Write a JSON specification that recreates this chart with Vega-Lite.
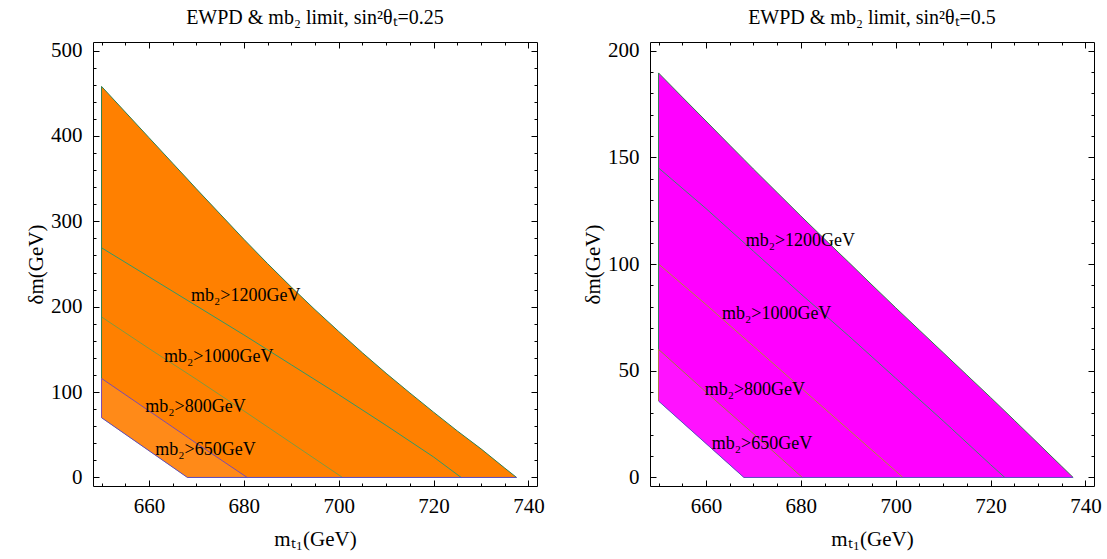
{
  "$schema": "https://vega.github.io/schema/vega-lite/v6.json",
  "background": "white",
  "padding": {"left": 25, "top": 7, "right": 5, "bottom": 5},
  "datasets": {
    "regL": [
      {"x": 650, "hi": 458, "lo": 70}, {"x": 655, "hi": 428, "lo": 50.7}, {"x": 660, "hi": 398, "lo": 31.3},
      {"x": 665, "hi": 368, "lo": 12}, {"x": 668.1, "hi": 349.5, "lo": 0}, {"x": 670, "hi": 338, "lo": 0},
      {"x": 675, "hi": 308.5, "lo": 0}, {"x": 680, "hi": 279, "lo": 0}, {"x": 685, "hi": 250.5, "lo": 0},
      {"x": 690, "hi": 223, "lo": 0}, {"x": 695, "hi": 196.5, "lo": 0}, {"x": 700, "hi": 171, "lo": 0},
      {"x": 705, "hi": 146, "lo": 0}, {"x": 710, "hi": 122, "lo": 0}, {"x": 715, "hi": 99, "lo": 0},
      {"x": 720, "hi": 76.5, "lo": 0}, {"x": 725, "hi": 54.5, "lo": 0}, {"x": 730, "hi": 33.5, "lo": 0},
      {"x": 735, "hi": 11, "lo": 0}, {"x": 737.5, "hi": 0, "lo": 0}
    ],
    "hatchL": [{"x": 650, "hi": 116, "lo": 70}, {"x": 668.1, "hi": 47.6, "lo": 0}, {"x": 680.7, "hi": 0, "lo": 0}],
    "linL": [
      {"x": 650, "y": 269, "c": "1200"}, {"x": 660, "y": 235, "c": "1200"}, {"x": 670, "y": 201, "c": "1200"}, {"x": 680, "y": 167, "c": "1200"}, {"x": 690, "y": 132, "c": "1200"}, {"x": 700, "y": 97, "c": "1200"}, {"x": 710, "y": 61, "c": "1200"}, {"x": 720, "y": 24, "c": "1200"}, {"x": 725.8, "y": 0, "c": "1200"},
      {"x": 650, "y": 188, "c": "1000"}, {"x": 660, "y": 151, "c": "1000"}, {"x": 670, "y": 115, "c": "1000"}, {"x": 680, "y": 78, "c": "1000"}, {"x": 690, "y": 40.5, "c": "1000"}, {"x": 700.8, "y": 0, "c": "1000"},
      {"x": 650, "y": 116, "c": "800"}, {"x": 660, "y": 78, "c": "800"}, {"x": 670, "y": 40, "c": "800"}, {"x": 680.7, "y": 0, "c": "800"},
      {"x": 650, "y": 70, "c": "650"}, {"x": 668.1, "y": 0, "c": "650"}, {"x": 737.5, "y": 0, "c": "650"}
    ],
    "sideL": [
      {"x": 650, "y": 70, "y2": 116, "c": "800"},
      {"x": 650, "y": 116, "y2": 458, "c": "edge"}
    ],
    "labL": [
      {"x": 680.4, "y": 213, "t": "mb₂>1200GeV"},
      {"x": 674.7, "y": 140.6, "t": "mb₂>1000GeV"},
      {"x": 669.8, "y": 82, "t": "mb₂>800GeV"},
      {"x": 671.9, "y": 31.6, "t": "mb₂>650GeV"}
    ],
    "regR": [
      {"x": 650, "hi": 189.5, "lo": 35.8}, {"x": 655, "hi": 178.2, "lo": 25.9}, {"x": 660, "hi": 167, "lo": 15.9},
      {"x": 665, "hi": 155.7, "lo": 6}, {"x": 668, "hi": 149, "lo": 0}, {"x": 670, "hi": 144.5, "lo": 0},
      {"x": 675, "hi": 133.5, "lo": 0}, {"x": 680, "hi": 122.5, "lo": 0}, {"x": 685, "hi": 111.7, "lo": 0},
      {"x": 690, "hi": 101, "lo": 0}, {"x": 695, "hi": 90.2, "lo": 0}, {"x": 700, "hi": 79.5, "lo": 0},
      {"x": 705, "hi": 69, "lo": 0}, {"x": 710, "hi": 58.5, "lo": 0}, {"x": 715, "hi": 48, "lo": 0},
      {"x": 720, "hi": 37.5, "lo": 0}, {"x": 725, "hi": 26.8, "lo": 0}, {"x": 730, "hi": 16, "lo": 0},
      {"x": 735, "hi": 5.2, "lo": 0}, {"x": 737.4, "hi": 0, "lo": 0}
    ],
    "hatchR": [{"x": 650, "hi": 60, "lo": 35.8}, {"x": 668, "hi": 24, "lo": 0}, {"x": 680.3, "hi": 0, "lo": 0}],
    "linR": [
      {"x": 650, "y": 145, "c": "1200"}, {"x": 660, "y": 126, "c": "1200"}, {"x": 670, "y": 106, "c": "1200"}, {"x": 680, "y": 86, "c": "1200"}, {"x": 690, "y": 66.5, "c": "1200"}, {"x": 700, "y": 46.5, "c": "1200"}, {"x": 710, "y": 26.5, "c": "1200"}, {"x": 720, "y": 6, "c": "1200"}, {"x": 723, "y": 0, "c": "1200"},
      {"x": 650, "y": 100, "c": "1000"}, {"x": 660, "y": 81, "c": "1000"}, {"x": 670, "y": 61.5, "c": "1000"}, {"x": 680, "y": 42, "c": "1000"}, {"x": 690, "y": 22.5, "c": "1000"}, {"x": 700, "y": 3, "c": "1000"}, {"x": 701.5, "y": 0, "c": "1000"},
      {"x": 650, "y": 60, "c": "800"}, {"x": 660, "y": 40, "c": "800"}, {"x": 670, "y": 20.5, "c": "800"}, {"x": 680.3, "y": 0, "c": "800"},
      {"x": 650, "y": 35.8, "c": "650"}, {"x": 668, "y": 0, "c": "650"}, {"x": 737.4, "y": 0, "c": "650"}
    ],
    "sideR": [
      {"x": 650, "y": 35.8, "y2": 60, "c": "800"},
      {"x": 650, "y": 60, "y2": 189.5, "c": "edge"}
    ],
    "labR": [
      {"x": 679.9, "y": 111, "t": "mb₂>1200GeV"},
      {"x": 674.9, "y": 76.4, "t": "mb₂>1000GeV"},
      {"x": 670.3, "y": 40.8, "t": "mb₂>800GeV"},
      {"x": 671.8, "y": 15.9, "t": "mb₂>650GeV"}
    ]
  },
  "config": {
    "view": {"stroke": "black", "strokeWidth": 1},
    "font": "Liberation Serif",
    "axis": {
      "labelFont": "Liberation Serif", "titleFont": "Liberation Serif",
      "labelColor": "black", "titleColor": "black", "tickColor": "black",
      "labelFontSize": 21, "titleFontSize": 21, "titleFontWeight": "normal",
      "grid": false, "domain": false, "tickWidth": 1
    },
    "title": {"font": "Liberation Serif", "fontSize": 20, "fontWeight": "normal", "color": "black", "anchor": "middle", "offset": 12}
  },
  "hconcat": [
    {
      "width": 444, "height": 444,
      "title": "EWPD & mb₂ limit, sin²θₜ=0.25",
      "resolve": {"axis": {"x": "independent", "y": "independent"}},
      "layer": [
        {
          "data": {"name": "regL"},
          "mark": {"type": "area", "color": "#ff8000", "opacity": 1},
          "encoding": {
            "x": {"field": "x", "type": "quantitative", "scale": {"domain": [648.2, 741.8], "nice": false, "zero": false},
                  "axis": {"orient": "bottom", "values": [660, 680, 700, 720, 740], "tickSize": -6, "labelPadding": 15, "title": "mₜ₁(GeV)", "titlePadding": 12}},
            "y": {"field": "hi", "type": "quantitative", "scale": {"domain": [-10, 510], "nice": false, "zero": false},
                  "axis": {"orient": "left", "values": [0, 100, 200, 300, 400, 500], "tickSize": -6, "labelPadding": 17, "title": "δm(GeV)", "titlePadding": 4}},
            "y2": {"field": "lo"}
          }
        },
        {
          "data": {"name": "hatchL"},
          "mark": {"type": "area", "color": "#ff8a18", "opacity": 1},
          "encoding": {
            "x": {"field": "x", "type": "quantitative", "axis": null},
            "y": {"field": "hi", "type": "quantitative", "axis": null},
            "y2": {"field": "lo"}
          }
        },
        {
          "data": {"name": "regL"},
          "mark": {"type": "line", "strokeWidth": 1, "color": "#2f7f4f"},
          "encoding": {
            "x": {"field": "x", "type": "quantitative", "axis": null},
            "y": {"field": "hi", "type": "quantitative", "axis": null}
          }
        },
        {
          "data": {"name": "linL"},
          "mark": {"type": "line", "strokeWidth": 1},
          "encoding": {
            "x": {"field": "x", "type": "quantitative", "axis": {"orient": "top", "values": [660, 680, 700, 720, 740], "tickSize": -6, "labels": false, "title": null}},
            "y": {"field": "y", "type": "quantitative", "axis": {"orient": "right", "values": [0, 100, 200, 300, 400, 500], "tickSize": -6, "labels": false, "title": null}},
            "color": {"field": "c", "type": "nominal", "legend": null, "scale": {"domain": ["edge", "1200", "1000", "800", "650"], "range": ["#2f7f4f", "#2f9a6a", "#7f9a40", "#7a4cb0", "#5a4fc0"]}}
          }
        },
        {
          "data": {"name": "sideL"},
          "mark": {"type": "rule", "strokeWidth": 1},
          "encoding": {
            "x": {"field": "x", "type": "quantitative", "axis": {"orient": "top", "values": [650, 655, 665, 670, 675, 685, 690, 695, 705, 710, 715, 725, 730, 735], "tickSize": -3, "labels": false, "title": null}},
            "y": {"field": "y", "type": "quantitative", "axis": {"orient": "right", "values": [20, 40, 60, 80, 120, 140, 160, 180, 220, 240, 260, 280, 320, 340, 360, 380, 420, 440, 460, 480], "tickSize": -3, "labels": false, "title": null}},
            "y2": {"field": "y2"},
            "color": {"field": "c", "type": "nominal", "legend": null}
          }
        },
        {
          "data": {"name": "labL"},
          "mark": {"type": "text", "font": "Liberation Serif", "fontSize": 18, "color": "black", "align": "center", "baseline": "middle"},
          "encoding": {
            "x": {"field": "x", "type": "quantitative", "axis": {"orient": "bottom", "values": [650, 655, 665, 670, 675, 685, 690, 695, 705, 710, 715, 725, 730, 735], "tickSize": -3, "labels": false, "title": null}},
            "y": {"field": "y", "type": "quantitative", "axis": {"orient": "left", "values": [20, 40, 60, 80, 120, 140, 160, 180, 220, 240, 260, 280, 320, 340, 360, 380, 420, 440, 460, 480], "tickSize": -3, "labels": false, "title": null}},
            "text": {"field": "t", "type": "nominal"}
          }
        }
      ]
    },
    {
      "width": 444, "height": 444,
      "title": "EWPD & mb₂ limit, sin²θₜ=0.5",
      "resolve": {"axis": {"x": "independent", "y": "independent"}},
      "layer": [
        {
          "data": {"name": "regR"},
          "mark": {"type": "area", "color": "#ff00ff", "opacity": 1},
          "encoding": {
            "x": {"field": "x", "type": "quantitative", "scale": {"domain": [648.2, 741.8], "nice": false, "zero": false},
                  "axis": {"orient": "bottom", "values": [660, 680, 700, 720, 740], "tickSize": -6, "labelPadding": 15, "title": "mₜ₁(GeV)", "titlePadding": 12}},
            "y": {"field": "hi", "type": "quantitative", "scale": {"domain": [-4, 204], "nice": false, "zero": false},
                  "axis": {"orient": "left", "values": [0, 50, 100, 150, 200], "tickSize": -6, "labelPadding": 17, "title": "δm(GeV)", "titlePadding": 4}},
            "y2": {"field": "lo"}
          }
        },
        {
          "data": {"name": "hatchR"},
          "mark": {"type": "area", "color": "#ff12ff", "opacity": 1},
          "encoding": {
            "x": {"field": "x", "type": "quantitative", "axis": null},
            "y": {"field": "hi", "type": "quantitative", "axis": null},
            "y2": {"field": "lo"}
          }
        },
        {
          "data": {"name": "regR"},
          "mark": {"type": "line", "strokeWidth": 1, "color": "#2f7f4f"},
          "encoding": {
            "x": {"field": "x", "type": "quantitative", "axis": null},
            "y": {"field": "hi", "type": "quantitative", "axis": null}
          }
        },
        {
          "data": {"name": "linR"},
          "mark": {"type": "line", "strokeWidth": 1},
          "encoding": {
            "x": {"field": "x", "type": "quantitative", "axis": {"orient": "top", "values": [660, 680, 700, 720, 740], "tickSize": -6, "labels": false, "title": null}},
            "y": {"field": "y", "type": "quantitative", "axis": {"orient": "right", "values": [0, 50, 100, 150, 200], "tickSize": -6, "labels": false, "title": null}},
            "color": {"field": "c", "type": "nominal", "legend": null, "scale": {"domain": ["edge", "1200", "1000", "800", "650"], "range": ["#2f7f4f", "#3a8a70", "#b08a3a", "#a08040", "#5a4fc0"]}}
          }
        },
        {
          "data": {"name": "sideR"},
          "mark": {"type": "rule", "strokeWidth": 1},
          "encoding": {
            "x": {"field": "x", "type": "quantitative", "axis": {"orient": "top", "values": [650, 655, 665, 670, 675, 685, 690, 695, 705, 710, 715, 725, 730, 735], "tickSize": -3, "labels": false, "title": null}},
            "y": {"field": "y", "type": "quantitative", "axis": {"orient": "right", "values": [10, 20, 30, 40, 60, 70, 80, 90, 110, 120, 130, 140, 160, 170, 180, 190], "tickSize": -3, "labels": false, "title": null}},
            "y2": {"field": "y2"},
            "color": {"field": "c", "type": "nominal", "legend": null}
          }
        },
        {
          "data": {"name": "labR"},
          "mark": {"type": "text", "font": "Liberation Serif", "fontSize": 18, "color": "black", "align": "center", "baseline": "middle"},
          "encoding": {
            "x": {"field": "x", "type": "quantitative", "axis": {"orient": "bottom", "values": [650, 655, 665, 670, 675, 685, 690, 695, 705, 710, 715, 725, 730, 735], "tickSize": -3, "labels": false, "title": null}},
            "y": {"field": "y", "type": "quantitative", "axis": {"orient": "left", "values": [10, 20, 30, 40, 60, 70, 80, 90, 110, 120, 130, 140, 160, 170, 180, 190], "tickSize": -3, "labels": false, "title": null}},
            "text": {"field": "t", "type": "nominal"}
          }
        }
      ]
    }
  ],
  "spacing": 113,
  "bounds": "flush",
  "resolve": {"scale": {"color": "independent", "x": "independent", "y": "independent"}}
}
